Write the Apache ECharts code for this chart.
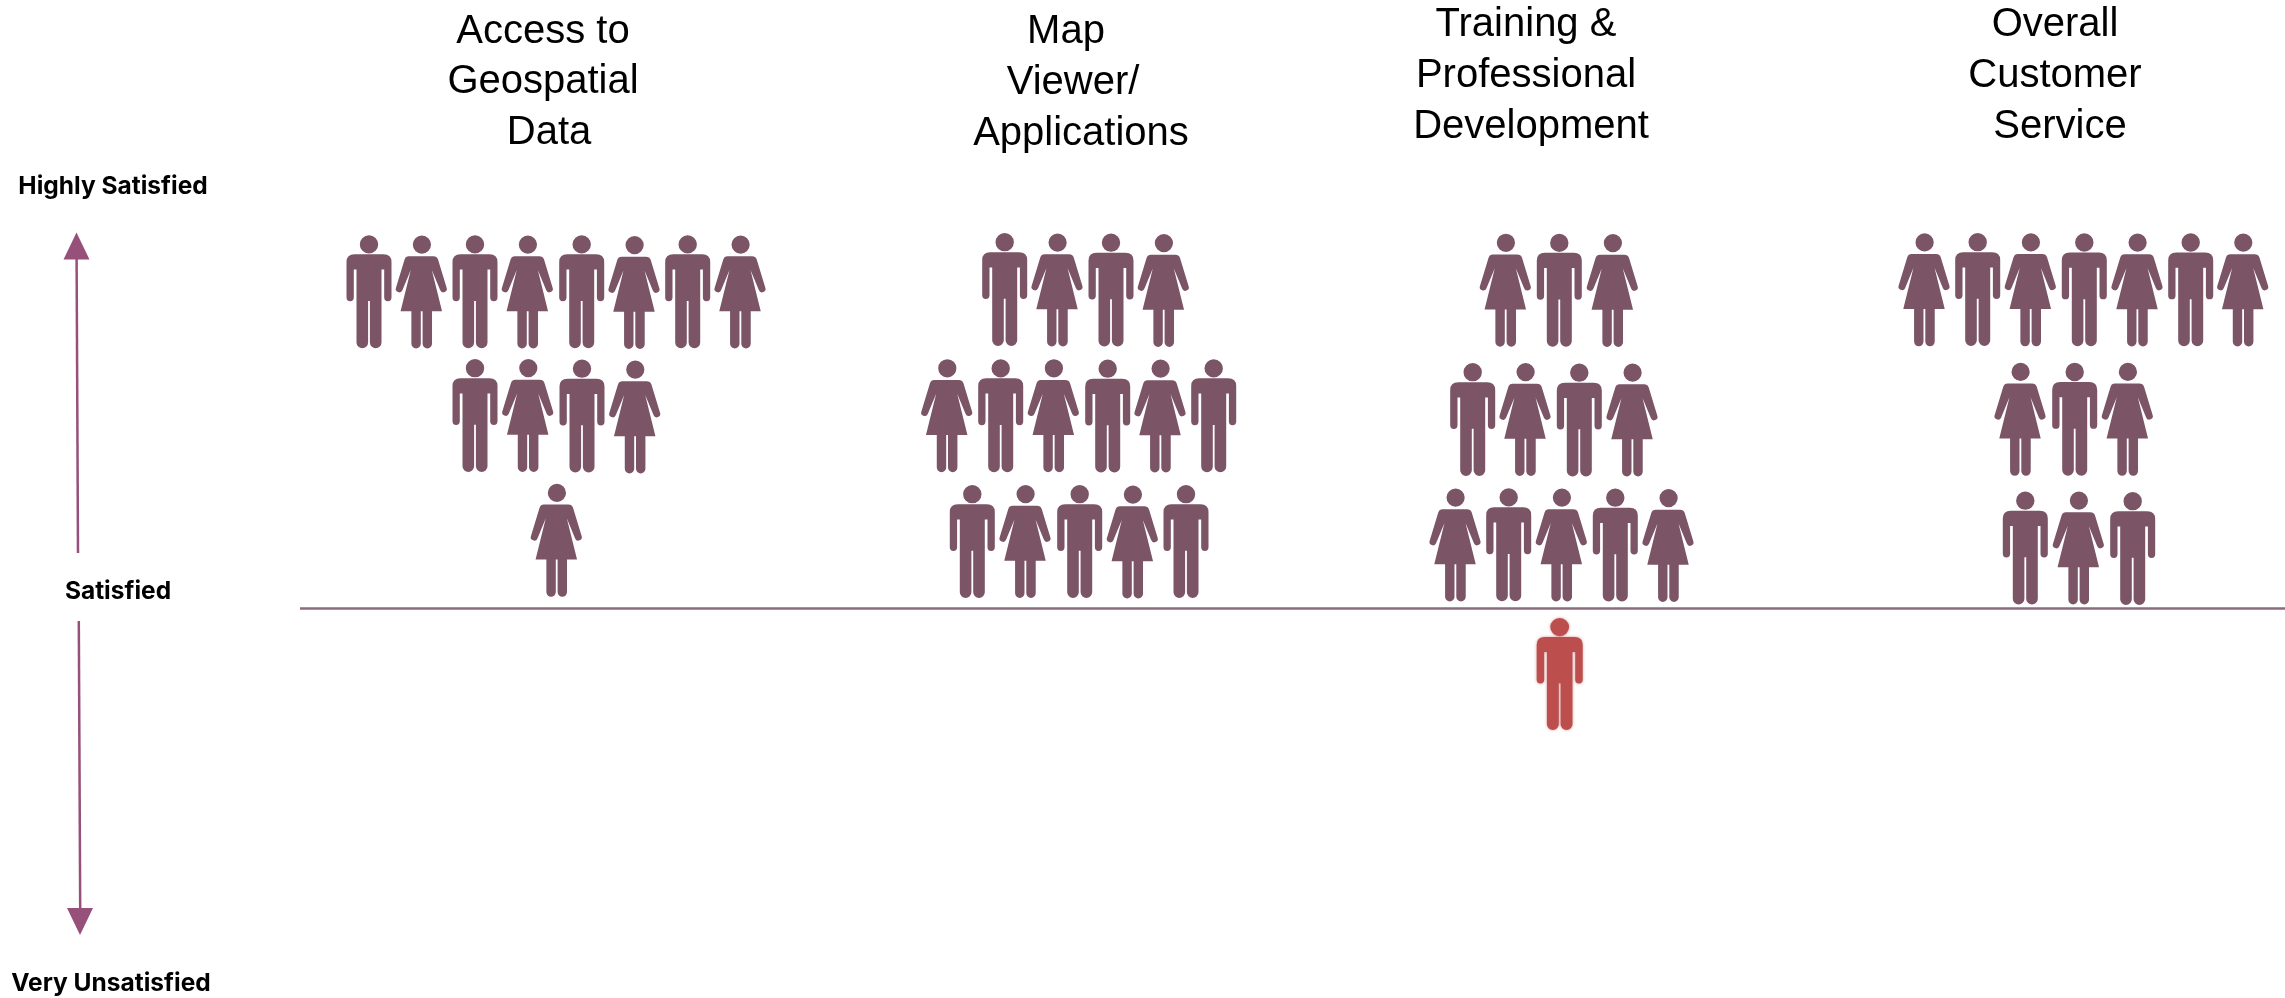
<!DOCTYPE html>
<html>
<head>
<meta charset="utf-8">
<style>html,body{margin:0;padding:0;background:#fff}#chart{width:2285px;height:998px}</style>
<script src="https://cdn.jsdelivr.net/npm/echarts@6/dist/echarts.min.js"></script>
</head>
<body>
<div id="chart"></div>
<script>
// Category headings: [text, x, y]
const headingLines = [
  ['Access to', 543, 32], ['Geospatial', 543, 82], ['Data', 549, 133],
  ['Map', 1066, 32], ['Viewer/', 1073, 83], ['Applications', 1081, 134],
  ['Training &', 1526, 25], ['Professional', 1526, 76], ['Development', 1531, 127],
  ['Overall', 2055, 25], ['Customer', 2055, 76], ['Service', 2060, 127]
];
// Scale labels: [text, x, y]
const scaleLabels = [
  ['Highly Satisfied', 113, 187],
  ['Satisfied', 118, 592],
  ['Very Unsatisfied', 111, 984]
];
// People: [x, y], grouped by topic and figure type
const accessMen = [[369,291.7],[475,291.7],[581.7,291.7],[687.7,291.7],[475,415.5],[582,416]];
const accessWomen = [[421.3,292],[527.3,292],[634,292.5],[740,292],[527.7,415.5],[634.7,417],[556.3,540.3]];
const mapMen = [[1004.7,289.5],[1111,290],[1000.7,415.7],[1107.7,416],[1213.7,415.7],[972.3,541.5],[1079.7,541.5],[1186,541.5]];
const mapWomen = [[1057,290],[1163.3,290.5],[946.7,415.7],[1053.3,415.7],[1160,416],[1025,541.5],[1132.3,542]];
const trainingMen = [[1559.3,290.2],[1472.7,419.5],[1579.3,420],[1508.7,544.7],[1615.3,545]];
const trainingWomen = [[1505.3,290.2],[1612.3,290.5],[1525,419.5],[1632,420],[1455,545],[1561.3,545],[1668,545.5]];
const trainingBelow = [[1559.7,674]];
const serviceMen = [[1977.7,289.5],[2084.3,289.8],[2190.7,289.8],[2074.7,419.3],[2025.3,548],[2132.7,548.5]];
const serviceWomen = [[1924,289.8],[2030.3,289.8],[2137,290],[2242.7,290],[2020,419.3],[2127.3,419.3],[2078.3,548]];
// Lines
const satisfiedLine = [[300,608.5],[2285,608.5]];
const upperArrow = [[76.6,259],[78,553]];
const lowerArrow = [[78.8,621],[80.2,908]];
const upperHead = [[76.5,246]];
const lowerHead = [[80,921.5]];

const MAN = 'path://M13.3,9.2a9.2,9.2 0 1 0 18.4,0a9.2,9.2 0 1 0 -18.4,0zM8,19.2H37Q45,19.2 45,27V62.5A3.65,3.65 0 0 1 37.7,62.5V34.5H35V107.5A5.8,5.8 0 0 1 23.4,107.5V66H21.6V107.5A5.8,5.8 0 0 1 10,107.5V34.5H7.3V62.5A3.65,3.65 0 0 1 0,62.5V27Q0,19.2 8,19.2Z';
const WOMAN = 'path://M17,9.1a9.1,9.1 0 1 0 18.2,0a9.1,9.1 0 1 0 -18.2,0zM13,20.7H37.5Q41,20.7 42.2,24L50.7,52A3.4,3.4 0 0 1 44.3,54.6L36,34.5L46.2,75.7H36.2V108.3A4.7,4.7 0 0 1 26.8,108.3V75.7H25V108.3A4.7,4.7 0 0 1 15.6,108.3V75.7H4.8L15,34.5L6.7,54.6A3.4,3.4 0 0 1 0.3,52L8.8,24Q10,20.7 13,20.7Z';

const PERSON = '#7b5465';
const men = (name, data) => ({name, type:'scatter', data, symbol:MAN, symbolSize:[45,113], itemStyle:{color:PERSON, opacity:1}, silent:true});
const women = (name, data) => ({name, type:'scatter', data, symbol:WOMAN, symbolSize:[51,113], itemStyle:{color:PERSON, opacity:1}, silent:true});
const rule = (data, color, width) => ({type:'line', data, showSymbol:false, symbol:'none', silent:true, lineStyle:{color, width, opacity:1}});
const head = (data, rotate) => ({type:'scatter', data, symbol:'triangle', symbolSize:[26,27], symbolRotate:rotate, itemStyle:{color:'#97507a', opacity:1}, silent:true});
const texts = (data, font, weight, size) => ({
  type:'scatter', data, symbolSize:0, silent:true,
  encode:{x:1, y:2},
  label:{show:true, position:'inside', formatter:p => p.value[0], fontFamily:font, fontWeight:weight, fontSize:size, color:'#000', textBorderWidth:0, opacity:1}
});

const chart = echarts.init(document.getElementById('chart'), null, {renderer:'canvas'});
chart.setOption({
  animation:false,
  backgroundColor:'#fff',
  grid:{left:0, right:0, top:0, bottom:0},
  xAxis:{type:'value', min:0, max:2285, show:false},
  yAxis:{type:'value', min:0, max:998, inverse:true, show:false},
  series:[
    rule(satisfiedLine, '#8a6c7c', 2.5),
    rule(upperArrow, '#97507a', 2.5),
    rule(lowerArrow, '#97507a', 2.5),
    head(upperHead, 0),
    head(lowerHead, 180),
    men('Access men', accessMen), women('Access women', accessWomen),
    men('Map men', mapMen), women('Map women', mapWomen),
    men('Training men', trainingMen), women('Training women', trainingWomen),
    men('Service men', serviceMen), women('Service women', serviceWomen),
    {name:'Training below', type:'scatter', data:trainingBelow, symbol:MAN, symbolSize:[46,112], silent:true,
     itemStyle:{color:'#bc4f4e', opacity:1, shadowColor:'rgba(188,79,78,0.6)', shadowBlur:3}},
    texts(headingLines, 'Liberation Sans', 400, 40),
    texts(scaleLabels, 'Inter', 700, 24.5)
  ]
});
</script>
</body>
</html>
